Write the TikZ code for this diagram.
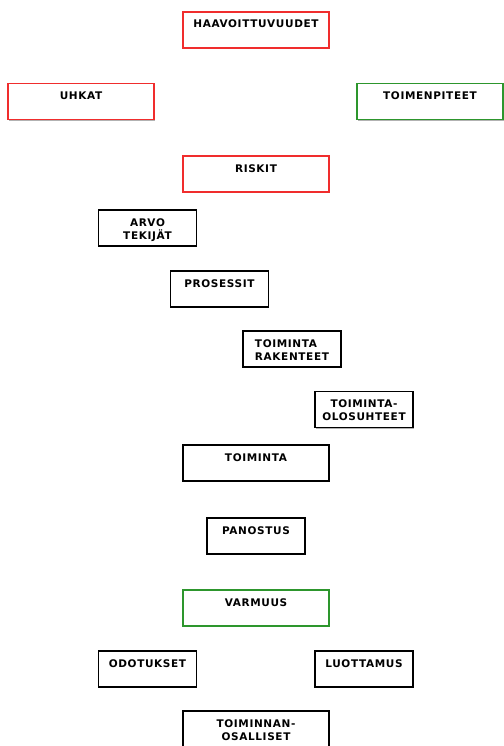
\documentclass[tikz,border=0pt]{standalone}
\usepackage{fontspec}
\newfontfamily\boxfont{DejaVu Sans}[LetterSpace=6]
\usepackage{tikz}
\usetikzlibrary{positioning,shadows}
\definecolor{boxred}{RGB}{240,45,45}
\definecolor{boxgreen}{RGB}{45,150,45}

\begin{document}
\begin{tikzpicture}[x=1pt,y=-1pt,
        box/.style={draw,line width=1.3pt,fill=white,inner xsep=2pt,inner ysep=0pt,
        text height=16pt,text depth=20pt,align=center,
        font=\boxfont\bfseries\fontsize{10.5}{13}\selectfont,
        drop shadow={shadow xshift=0.8pt,shadow yshift=-1.2pt,fill=black!30,opacity=1}},
        wide/.style={box,minimum width=146pt},
        narrow/.style={box,minimum width=98pt},
        twoline/.style={text height=29pt,text depth=7pt},
        redbox/.style={draw=boxred},
        greenbox/.style={draw=boxgreen}]
        \useasboundingbox (0,0) rectangle (503,746);

        % Top
        \node[wide,redbox] (haav) at (256,30) {HAAVOITTUVUUDET};
        \node[wide,redbox] (uhkat) at (81,101.5) {UHKAT};
        \node[wide,greenbox] (toimenp) at (430,101.5) {TOIMENPITEET};
        \node[wide,redbox] (riskit) at (256,174) {RISKIT};

        % Steps
        \node[narrow,twoline] (arvo) at (147.5,228) {ARVO\\TEKIJÄT};
        \node[narrow] (prosessit) at (219.5,289) {PROSESSIT};
        \node[narrow,twoline,align=left] (rakenteet) at (292,349) {TOIMINTA\\RAKENTEET};
        \node[narrow,twoline] (olosuhteet) at (364,409.5) {TOIMINTA-\\OLOSUHTEET};

        % Middle
        \node[wide] (toiminta) at (256,463) {TOIMINTA};
        \node[narrow] (panostus) at (256,536) {PANOSTUS};
        \node[wide,greenbox] (varmuus) at (256,608) {VARMUUS};

        % Bottom
        \node[narrow] (odotukset) at (147.5,669) {ODOTUKSET};
        \node[narrow] (luottamus) at (364,669) {LUOTTAMUS};
        \node[wide,twoline] (osalliset) at (256,729) {TOIMINNAN-\\OSALLISET};
    \end{tikzpicture}
\end{document}
